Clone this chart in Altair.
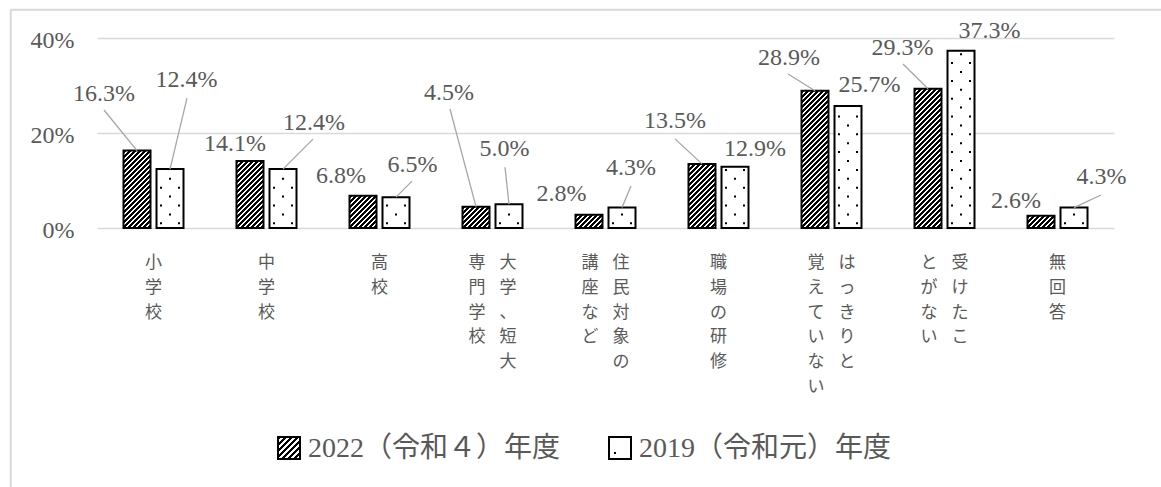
import altair as alt
import pandas as pd

# ---------------- data ----------------
categories = ["小学校", "中学校", "高校", "大学、短大専門学校", "住民対象の講座など",
              "職場の研修", "はっきりと覚えていない", "受けたことがない", "無回答"]
# how each category label is wrapped into vertical columns (right column first)
category_columns = [["小学校"], ["中学校"], ["高校"], ["大学、短大", "専門学校"],
                    ["住民対象の", "講座など"], ["職場の研修"], ["はっきりと", "覚えていない"],
                    ["受けたこ", "とがない"], ["無回答"]]
series = ["2022（令和４）年度", "2019（令和元）年度"]
values_2022 = [16.3, 14.1, 6.8, 4.5, 2.8, 13.5, 28.9, 29.3, 2.6]
values_2019 = [12.4, 12.4, 6.5, 5.0, 4.3, 12.9, 25.7, 37.3, 4.3]
y_ticks = [0, 20, 40]

# ---------------- layout ----------------
W, H = 1017, 190
Y_MAX = 40
N_CAT = len(categories)
BAND = W / N_CAT
PX = H / Y_MAX
BAR_W = 27
BAR_SHIFT = 16.5
COL_GAP = 31
HATCH_PERIOD = 5.0
HATCH_BLACK = 0.6

# label centre offsets (px) from the top-centre of each bar, and leader-line start offsets
label_offsets = [
    [(-33, -57), (-15, -17.5), (-22, -20), (-27, -114), (-27.5, -21), (-27, -42.5), (-26, -33), (-25.5, -41), (-25, -15)],
    [(16.5, -89), (31, -46.5), (16.5, -32.5), (-4.5, -55), (9, -40), (20, -18), (21.5, -21), (28.5, -20), (27.5, -31)],
]
leader_starts = [
    [(-33, -40.6), None, None, (-26, -97.6), None, (-27, -25), (-27, -16.7), (-25, -24.8), None],
    [(17, -71), (30, -30), (16, -16), (-4, -37), (9, -21.6), None, None, None, (27, -12.6)],
]

FONT_NUM = "Liberation Serif"
FONT_MIX = "'Liberation Serif', 'Noto Sans CJK JP'"
FONT_JP = "Noto Sans CJK JP"
TEXT = "#595959"
GRID = "#d9d9d9"
LEADER = "#a6a6a6"

rows = []
for s, vals in enumerate([values_2022, values_2019]):
    for i, v in enumerate(vals):
        dx, dy = label_offsets[s][i]
        lead = leader_starts[s][i]
        rows.append({"i": i, "s": s, "category": categories[i], "series": series[s], "value": v,
                     "ldx": dx, "ldy": dy, "lead": lead is not None,
                     "lx": lead[0] if lead else 0.0, "ly": lead[1] if lead else 0.0})
df = pd.DataFrame(rows)

x_scale = alt.Scale(domain=[0, N_CAT], nice=False, zero=False)
y_scale = alt.Scale(domain=[0, Y_MAX], nice=False, zero=True)

y_axis = alt.Axis(values=y_ticks, labelExpr="datum.value + '%'", grid=True, gridColor=GRID,
                  gridWidth=1.5, domain=False, ticks=False, labelPadding=23, labelFont=FONT_NUM,
                  labelFontSize=24, labelColor=TEXT, title=None, labelOffset=2)


def X(field):
    return alt.X(field, type="quantitative", scale=x_scale, axis=None)


def Y(field):
    return alt.Y(field, type="quantitative", scale=y_scale, axis=y_axis)


base = alt.Chart(df).transform_calculate(
    xc=f"datum.i + 0.5 + (datum.s == 0 ? -1 : 1) * {BAR_SHIFT / BAND}"
)


def hatch_stops_expr(n):
    parts = []
    for j in range(n):
        a = f"min(1,{j}*datum.dt)"
        b = f"min(1,{j + HATCH_BLACK}*datum.dt)"
        c = f"min(1,{j + 1}*datum.dt)"
        parts += ["{offset:%s,color:'#000000'}" % a, "{offset:%s,color:'#000000'}" % b,
                  "{offset:%s,color:'#ffffff'}" % b, "{offset:%s,color:'#ffffff'}" % c]
    return "[" + ",".join(parts) + "]"


bars = base.transform_calculate(
    x0=f"datum.xc - {BAR_W / 2 / BAND}",
    x1=f"datum.xc + {BAR_W / 2 / BAND}",
    h=f"datum.value * {PX}",
).transform_calculate(
    dt=f"{HATCH_PERIOD} / ({BAR_W} + datum.h)",
    gx=f"{BAR_W} * ({BAR_W} + datum.h) / ({BAR_W * BAR_W} + datum.h * datum.h)",
    gy=f"datum.h * ({BAR_W} + datum.h) / ({BAR_W * BAR_W} + datum.h * datum.h)",
).transform_calculate(
    paint="datum.s == 1 ? '#ffffff' : {gradient:'linear',x1:0,y1:0,x2:datum.gx,y2:datum.gy,stops:"
          + hatch_stops_expr(40) + "}"
).mark_rect(stroke="black", strokeWidth=2).encode(
    x=X("x0"),
    x2="x1:Q",
    y=Y("value"),
    y2=alt.datum(0),
    fill=alt.Fill("paint:N", scale=None),
)

dots = base.transform_filter("datum.s == 1").transform_calculate(
    ks=f"sequence(0, max(1, ceil((datum.value * {PX} - 7.7) / 8.9)))"
).transform_flatten(["ks"], as_=["k"]).transform_calculate(
    cs="datum.k % 2 == 0 ? [-1, 1] : [0]"
).transform_flatten(["cs"], as_=["c"]).transform_calculate(
    px_x=f"datum.xc + datum.c * 9 / {BAND}",
    px_y=f"(4.7 + 8.9 * datum.k) / {PX}",
).mark_square(size=4, color="black", opacity=1, filled=True).encode(
    x=X("px_x"),
    y=Y("px_y"),
)

leaders = base.transform_filter("datum.lead").transform_calculate(
    lx0=f"datum.xc + datum.lx / {BAND}",
    ly0=f"datum.value - datum.ly / {PX}",
).mark_rule(color=LEADER, strokeWidth=1.3).encode(
    x=X("lx0"),
    y=Y("ly0"),
    x2="xc:Q",
    y2="value:Q",
)

labels = base.transform_calculate(
    tx=f"datum.xc + datum.ldx / {BAND}",
    ty=f"datum.value - datum.ldy / {PX}",
    txt="format(datum.value, '.1f') + '%'",
).mark_text(font=FONT_NUM, fontSize=24, color=TEXT, align="center", baseline="middle").encode(
    x=X("tx"),
    y=Y("ty"),
    text="txt:N",
)

cat_rows = []
for i, cols in enumerate(category_columns):
    for j, col in enumerate(cols):
        cat_rows.append({"i": i, "j": j, "n": len(cols), "text": "\n".join(col)})
cat_df = pd.DataFrame(cat_rows)

cat_labels = alt.Chart(cat_df).transform_calculate(
    cx=f"datum.i + 0.5 + ((datum.n - 1) / 2 - datum.j) * {COL_GAP / BAND}"
).mark_text(lineBreak="\n", baseline="top", align="center", font=FONT_JP, fontSize=17,
            lineHeight=24.8, color=TEXT).encode(
    x=X("cx"),
    y=alt.value(217),
    text="text:N",
)

# ---------- legend ----------
leg_df = pd.DataFrame({"series": series})
LEG_TOP, SW = 399, 22
leg_left = [181, 512]
sw_stops = []
n_sw = int(2 * SW / 6) + 2
for j in range(n_sw):
    dt = 6 / (2 * SW)
    a, b, c = min(1, j * dt), min(1, (j + HATCH_BLACK) * dt), min(1, (j + 1) * dt)
    sw_stops += [{"offset": a, "color": "#000000"}, {"offset": b, "color": "#000000"},
                 {"offset": b, "color": "#ffffff"}, {"offset": c, "color": "#ffffff"}]
hatch_fill = {"gradient": "linear", "x1": 0, "y1": 0, "x2": 1, "y2": 1, "stops": sw_stops}

legend_layers = []
for k, name in enumerate(series):
    one = alt.Chart(leg_df).transform_filter(alt.datum.series == name)
    legend_layers.append(
        one.mark_rect(fill=hatch_fill if k == 0 else "#ffffff", stroke="black", strokeWidth=2).encode(
            x=alt.value(leg_left[k]), x2=alt.value(leg_left[k] + SW),
            y=alt.value(LEG_TOP), y2=alt.value(LEG_TOP + SW))
    )
    legend_layers.append(
        one.mark_text(font=FONT_MIX, fontSize=28, color=TEXT, align="left", baseline="middle").encode(
            x=alt.value(leg_left[k] + SW + 8), y=alt.value(LEG_TOP + SW / 2 + 1), text="series:N")
    )
legend_layers.append(
    alt.Chart(leg_df).transform_filter(alt.datum.series == series[1]).mark_square(
        size=4, color="black", opacity=1, filled=True).encode(
        x=alt.value(leg_left[1] + 6), y=alt.value(LEG_TOP + 16))
)

# ---------- chart frame ----------
frame_df = pd.DataFrame({"f": [0]})
frame_left = alt.Chart(frame_df).mark_rule(color=GRID, strokeWidth=2).encode(
    x=alt.value(-86.3), y=alt.value(-28.3), y2=alt.value(460))
frame_top = alt.Chart(frame_df).mark_rule(color=GRID, strokeWidth=2).encode(
    x=alt.value(-86.3), x2=alt.value(1070), y=alt.value(-28.3))

chart = alt.layer(
    bars, dots, leaders, labels, cat_labels, frame_left, frame_top, *legend_layers
).properties(
    width=W, height=H,
    autosize=alt.AutoSizeParams(type="none"),
    padding={"left": 97, "top": 38, "right": 47, "bottom": 259},
    background="white",
).configure_view(stroke=None)

chart.save("out.html", embed_options={"renderer": "svg", "actions": False})
